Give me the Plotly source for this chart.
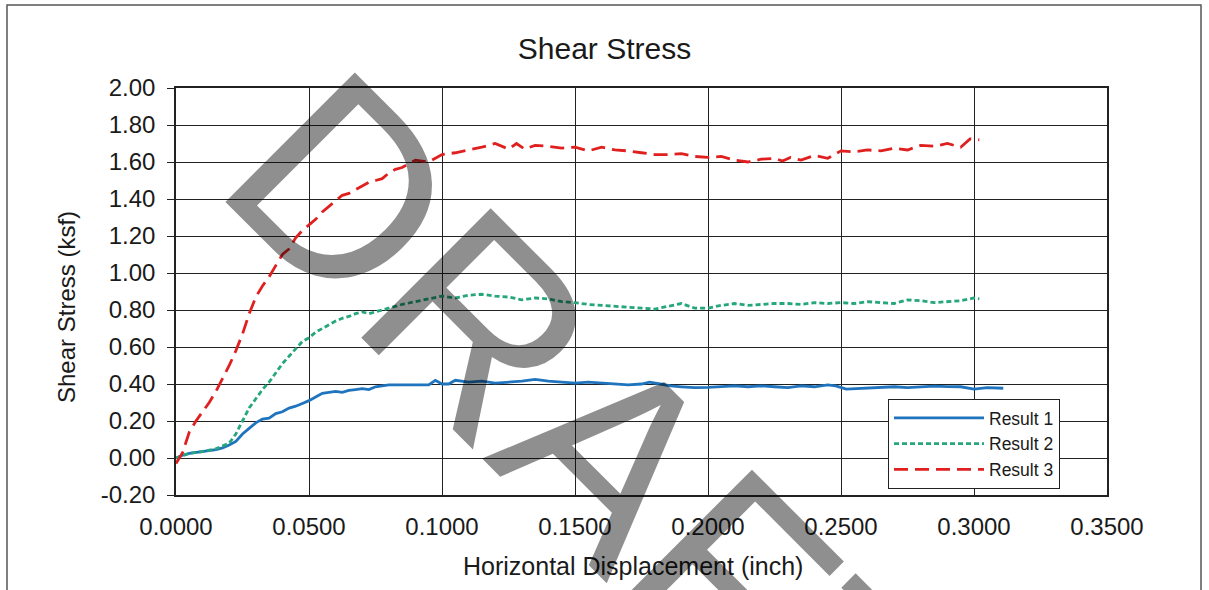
import plotly.graph_objects as go

# ---- data ----
x_r1 = [0, 0.0025, 0.005, 0.0075, 0.010, 0.0125, 0.015, 0.0175, 0.020, 0.0225,
        0.025, 0.0275, 0.030, 0.0325, 0.035, 0.0375, 0.040, 0.0425, 0.045, 0.0475,
        0.050, 0.0525, 0.055, 0.0575, 0.060, 0.0625, 0.065, 0.0675, 0.070, 0.0725,
        0.075, 0.0775, 0.080, 0.085, 0.090, 0.095, 0.0975, 0.100, 0.1025, 0.105,
        0.110, 0.115, 0.120, 0.125, 0.130, 0.135, 0.1375, 0.140, 0.145, 0.150,
        0.155, 0.160, 0.165, 0.170, 0.175, 0.178, 0.182, 0.186, 0.190, 0.195,
        0.200, 0.205, 0.210, 0.215, 0.220, 0.225, 0.230, 0.235, 0.240, 0.245,
        0.248, 0.252, 0.256, 0.260, 0.265, 0.270, 0.275, 0.280, 0.285, 0.290,
        0.295, 0.300, 0.305, 0.311]
y_r1 = [0.00, 0.015, 0.025, 0.03, 0.035, 0.04, 0.045, 0.055, 0.07, 0.09,
        0.13, 0.16, 0.19, 0.21, 0.215, 0.24, 0.25, 0.27, 0.28, 0.295,
        0.31, 0.33, 0.35, 0.355, 0.36, 0.355, 0.365, 0.37, 0.375, 0.37,
        0.385, 0.39, 0.395, 0.395, 0.395, 0.395, 0.42, 0.40, 0.40, 0.42,
        0.41, 0.415, 0.405, 0.41, 0.415, 0.425, 0.42, 0.415, 0.41, 0.405,
        0.41, 0.405, 0.40, 0.395, 0.40, 0.41, 0.40, 0.39, 0.385, 0.38,
        0.382, 0.385, 0.39, 0.385, 0.39, 0.385, 0.38, 0.39, 0.385, 0.395,
        0.39, 0.372, 0.375, 0.38, 0.382, 0.385, 0.38, 0.385, 0.388, 0.386,
        0.385, 0.372, 0.38, 0.377]

x_r2 = [0, 0.005, 0.010, 0.015, 0.020, 0.0225, 0.025, 0.0275, 0.030, 0.0325,
        0.035, 0.0375, 0.040, 0.0425, 0.045, 0.0475, 0.050, 0.0525, 0.055, 0.0575,
        0.060, 0.0625, 0.065, 0.0675, 0.070, 0.0725, 0.075, 0.080, 0.085, 0.090,
        0.095, 0.100, 0.105, 0.110, 0.115, 0.120, 0.125, 0.130, 0.135, 0.140,
        0.145, 0.150, 0.155, 0.160, 0.165, 0.170, 0.175, 0.180, 0.185, 0.190,
        0.195, 0.200, 0.205, 0.210, 0.215, 0.220, 0.225, 0.230, 0.235, 0.240,
        0.245, 0.250, 0.255, 0.260, 0.265, 0.270, 0.275, 0.280, 0.285, 0.290,
        0.295, 0.300, 0.302]
y_r2 = [0.00, 0.025, 0.035, 0.05, 0.08, 0.13, 0.20, 0.27, 0.32, 0.37,
        0.41, 0.46, 0.51, 0.55, 0.59, 0.63, 0.65, 0.68, 0.70, 0.72,
        0.74, 0.755, 0.765, 0.78, 0.79, 0.78, 0.79, 0.81, 0.83, 0.845,
        0.86, 0.875, 0.865, 0.88, 0.885, 0.875, 0.87, 0.855, 0.865, 0.86,
        0.845, 0.84, 0.83, 0.825, 0.82, 0.815, 0.81, 0.805, 0.82, 0.835,
        0.81, 0.81, 0.825, 0.835, 0.825, 0.83, 0.835, 0.835, 0.83, 0.84,
        0.835, 0.84, 0.835, 0.845, 0.84, 0.835, 0.855, 0.85, 0.84, 0.845,
        0.85, 0.865, 0.86]

x_r3 = [0, 0.0025, 0.005, 0.0075, 0.010, 0.0125, 0.015, 0.0175, 0.020, 0.0225,
        0.025, 0.0275, 0.030, 0.0325, 0.035, 0.0375, 0.040, 0.0425, 0.045, 0.0475,
        0.050, 0.0525, 0.055, 0.0575, 0.060, 0.0625, 0.065, 0.0675, 0.070, 0.0725,
        0.075, 0.0775, 0.080, 0.0825, 0.085, 0.0875, 0.090, 0.095, 0.100, 0.105,
        0.110, 0.115, 0.120, 0.125, 0.128, 0.131, 0.135, 0.140, 0.145, 0.150,
        0.155, 0.160, 0.165, 0.170, 0.175, 0.180, 0.185, 0.190, 0.195, 0.200,
        0.205, 0.210, 0.215, 0.220, 0.225, 0.228, 0.231, 0.235, 0.240, 0.245,
        0.250, 0.255, 0.260, 0.265, 0.270, 0.275, 0.280, 0.285, 0.290, 0.295,
        0.2985, 0.302]
y_r3 = [-0.03, 0.03, 0.14, 0.20, 0.25, 0.30, 0.36, 0.43, 0.50, 0.58,
        0.67, 0.78, 0.87, 0.93, 0.98, 1.04, 1.10, 1.13, 1.19, 1.23,
        1.26, 1.29, 1.33, 1.36, 1.39, 1.42, 1.43, 1.45, 1.47, 1.49,
        1.50, 1.51, 1.54, 1.56, 1.57, 1.59, 1.61, 1.60, 1.64, 1.65,
        1.665, 1.68, 1.70, 1.67, 1.70, 1.67, 1.69, 1.685, 1.675, 1.68,
        1.66, 1.68, 1.665, 1.66, 1.65, 1.64, 1.64, 1.645, 1.63, 1.625,
        1.63, 1.61, 1.60, 1.615, 1.62, 1.605, 1.625, 1.61, 1.635, 1.62,
        1.66, 1.655, 1.665, 1.66, 1.675, 1.665, 1.69, 1.685, 1.70, 1.68,
        1.725, 1.72]

series_names = ["Result 1", "Result 2", "Result 3"]
x_ticks = [0.0, 0.05, 0.10, 0.15, 0.20, 0.25, 0.30, 0.35]
x_tick_labels = ["0.0000", "0.0500", "0.1000", "0.1500", "0.2000", "0.2500", "0.3000", "0.3500"]
y_ticks = [-0.2, 0.0, 0.2, 0.4, 0.6, 0.8, 1.0, 1.2, 1.4, 1.6, 1.8, 2.0]
y_tick_labels = ["-0.20", "0.00", "0.20", "0.40", "0.60", "0.80", "1.00",
                 "1.20", "1.40", "1.60", "1.80", "2.00"]

FONT = "Liberation Sans, Arial, sans-serif"
TXT = "#1a1a1a"

fig = go.Figure()
fig.add_trace(go.Scatter(x=x_r1, y=y_r1, mode="lines", name=series_names[0],
                         line=dict(color="#1f74bd", width=2.8)))
fig.add_trace(go.Scatter(x=x_r2, y=y_r2, mode="lines", name=series_names[1],
                         line=dict(color="#25a67c", width=2.8, dash="5px,3px")))
fig.add_trace(go.Scatter(x=x_r3, y=y_r3, mode="lines", name=series_names[2],
                         line=dict(color="#e01f1f", width=2.8, dash="14px,7px")))

# pixel -> paper helpers (plot area: x 176..1107, y 88..495)
L, R, T, B = 176, 1107, 88, 495
def px(x):
    return (x - L) / (R - L)
def py(y):
    return (B - y) / (B - T)

fig.update_layout(
    width=1209, height=590,
    margin=dict(l=L, r=1209 - R, t=T, b=590 - B),
    paper_bgcolor="white", plot_bgcolor="white",
    font=dict(family=FONT, color=TXT),
    title=dict(text="Shear Stress", x=0.5, xref="container", xanchor="center",
               y=1 - 48 / 590, yref="container", yanchor="middle",
               font=dict(size=30, family=FONT, color=TXT)),
    showlegend=True,
    legend=dict(x=px(888), y=py(399), xanchor="left", yanchor="top",
                bgcolor="white", bordercolor="#222", borderwidth=1,
                font=dict(size=17.5, family=FONT, color=TXT),
                tracegroupgap=0, itemwidth=90),
    xaxis=dict(range=[0, 0.35], tickvals=x_ticks, ticktext=x_tick_labels,
               showgrid=True, gridcolor="#222", gridwidth=1,
               showline=True, linecolor="#222", linewidth=1.5, mirror=True,
               zeroline=False, ticks="", ticklabelstandoff=9,
               tickfont=dict(size=24, family=FONT, color=TXT)),
    yaxis=dict(range=[-0.2, 2.0], tickvals=y_ticks, ticktext=y_tick_labels,
               showgrid=True, gridcolor="#222", gridwidth=1,
               showline=True, linecolor="#222", linewidth=1.5, mirror=True,
               zeroline=False, ticks="outside", ticklen=7, tickcolor="#222",
               ticklabelstandoff=7,
               tickfont=dict(size=24, family=FONT, color=TXT)),
    annotations=[
        dict(text="Horizontal Displacement (inch)", xref="paper", yref="paper",
             x=px(633), y=py(566), xanchor="center", yanchor="middle",
             showarrow=False, font=dict(size=25, family=FONT, color=TXT)),
        dict(text="Shear Stress (ksf)", xref="paper", yref="paper",
             x=px(66), y=py(307), xanchor="center", yanchor="middle",
             textangle=-90, showarrow=False,
             font=dict(size=24, family=FONT, color=TXT)),
        dict(text="DRAFT", xref="paper", yref="paper",
             x=px(589), y=py(434), xanchor="center", yanchor="middle",
             textangle=45, showarrow=False,
             font=dict(size=266, family=FONT, color="rgba(0,0,0,0.44)")),
    ],
    shapes=[
        dict(type="rect", xref="paper", yref="paper",
             x0=px(7), x1=px(1201), y0=py(600), y1=py(5),
             line=dict(color="#555", width=1.5), layer="below"),
    ],
)

fig.write_html("out.html")
